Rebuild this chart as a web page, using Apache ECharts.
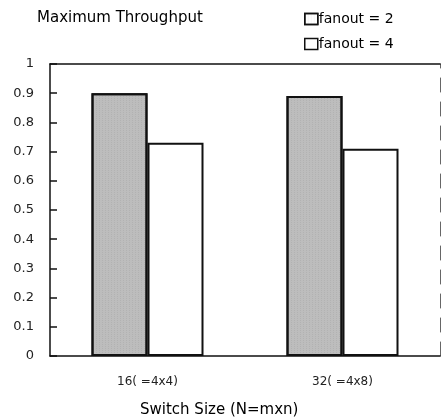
<!DOCTYPE html>
<html>
<head>
<meta charset="utf-8">
<script src="https://cdn.jsdelivr.net/npm/echarts@6/dist/echarts.min.js"></script>
<style>html,body{margin:0;padding:0;background:#fff}#c{width:441px;height:419px}</style>
</head>
<body>
<div id="c"></div>
<script>
var categories = ['16( =4x4)', '32( =4x8)'];
var fanout2 = [0.90, 0.89];
var fanout4 = [0.73, 0.71];
var yTicks = [0, 0.1, 0.2, 0.3, 0.4, 0.5, 0.6, 0.7, 0.8, 0.9, 1];

var chart = echarts.init(document.getElementById('c'));
var font = 'DejaVu Sans';

var option = {
	backgroundColor: '#fff',
	animation: false,
	title: [{
		text: 'Maximum Throughput',
		left: 32,
		top: 6,
		textStyle: {fontFamily: font, fontSize: 15, fontWeight: 'normal', color: '#000'}
	}, {
		text: 'Switch Size (N=mxn)',
		left: 135,
		top: 398,
		textStyle: {fontFamily: font, fontSize: 15, fontWeight: 'normal', color: '#000'}
	}],
	legend: {
		left: 299,
		top: 7,
		orient: 'vertical',
		itemGap: 11,
		itemWidth: 13,
		itemHeight: 11,
		icon: 'rect',
		textStyle: {fontFamily: font, fontSize: 14, color: '#000', padding: [0, 0, 0, -4]},
		data: [
			{name: 'fanout = 2', itemStyle: {color: '#fff', borderColor: '#111', borderWidth: 1.5}},
			{name: 'fanout = 4', itemStyle: {color: '#fff', borderColor: '#111', borderWidth: 1.5}}
		]
	},
	grid: {left: 50, right: 1, top: 64, bottom: 63},
	xAxis: [{
		type: 'category',
		data: categories,
		axisLine: {lineStyle: {color: '#111', width: 1.5}},
		axisTick: {show: false},
		axisLabel: {margin: 20, fontFamily: font, fontSize: 12, color: '#222'}
	}, {
		type: 'category',
		position: 'top',
		data: categories,
		axisLine: {show: true, onZero: false, lineStyle: {color: '#111', width: 1.5}},
		axisTick: {show: false},
		axisLabel: {show: false}
	}],
	yAxis: [{
		type: 'value',
		min: 0,
		max: 1,
		interval: 0.1,
		axisLine: {show: true, lineStyle: {color: '#111', width: 1.5}},
		axisTick: {show: true, inside: true, length: 7, lineStyle: {color: '#111', width: 1.5}},
		splitLine: {show: false},
		axisLabel: {
			margin: 16, fontFamily: font, fontSize: 13, color: '#222',
			formatter: function (v) {
				var t = yTicks.filter(function (x) { return Math.abs(x - v) < 1e-6; })[0];
				return t === undefined ? '' : String(t);
			}
		}
	}, {
		type: 'value',
		position: 'right',
		min: 0,
		max: 1,
		axisLine: {show: true, onZero: false, lineStyle: {color: '#666', width: 1, type: [14, 10]}},
		axisTick: {show: false},
		axisLabel: {show: false},
		splitLine: {show: false}
	}],
	series: [{
		name: 'fanout = 2',
		type: 'bar',
		data: fanout2,
		barWidth: 56,
		barGap: '0%',
		itemStyle: {
			color: '#bdbdbd',
			borderColor: '#111',
			borderWidth: 2,
			decal: {symbol: 'rect', symbolSize: 0.6, color: 'rgba(90,90,90,0.35)', dashArrayX: [[1, 2]], dashArrayY: [1, 1], rotation: 0}
		}
	}, {
		name: 'fanout = 4',
		type: 'bar',
		data: fanout4,
		barWidth: 56,
		itemStyle: {color: '#fff', borderColor: '#111', borderWidth: 2}
	}]
};
chart.setOption(option);
</script>
</body>
</html>
